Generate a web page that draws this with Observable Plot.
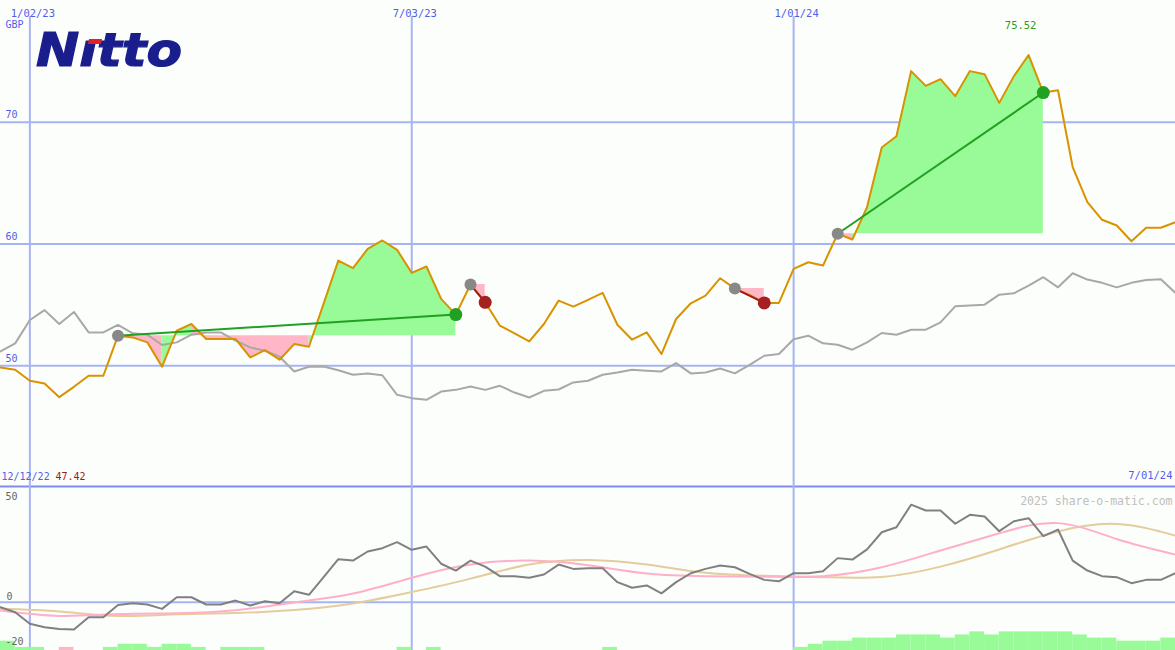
<!DOCTYPE html>
<html>
<head>
<meta charset="utf-8">
<script src="https://cdn.jsdelivr.net/npm/d3@7"></script>
<script src="https://cdn.jsdelivr.net/npm/@observablehq/plot@0.6"></script>
<style>
  html, body { margin: 0; padding: 0; background: #fcfefc; }
  #wrap { position: relative; width: 1175px; height: 650px; overflow: hidden; background: #fcfefc; }
  #topPanel, #bottomPanel { position: absolute; left: 0; }
  #topPanel { top: 0; }
  #bottomPanel { top: 487px; }
  #logo { position: absolute; left: 0; top: 0; }
</style>
</head>
<body>
<div id="wrap">
  <div id="topPanel"></div>
  <div id="bottomPanel"></div>
  <svg id="logo" width="200" height="80">
    <text x="36" y="66" font-family="DejaVu Sans" font-weight="bold" font-style="italic" font-size="46" fill="#1a1e8c" stroke="#1a1e8c" stroke-width="1.2" textLength="146" lengthAdjust="spacingAndGlyphs">Nıtto</text>
    <polygon points="89,39 102,39 101,44 88,44" fill="#e0202a"/>
  </svg>
</div>
<script>
// ---------- DATA ----------
// weekly observations (Mondays) from 2022-12-19 to 2024-07-01
const firstWeek = "2022-12-19";
const lastWeek = "2024-07-01";

// share price, GBP
const price = [
  49.86, 49.67, 48.77, 48.54, 47.42, 48.27, 49.18, 49.18, 52.47, 52.33,
  51.92, 49.92, 52.88, 53.43, 52.20, 52.20, 52.20, 50.68, 51.29, 50.49,
  51.79, 51.56, 55.10, 58.64, 58.01, 59.60, 60.29, 59.52, 57.63, 58.15,
  55.49, 54.20, 56.67, 55.21, 53.29, 52.66, 52.00, 53.43, 55.35, 54.86,
  55.41, 55.98, 53.37, 52.14, 52.74, 50.96, 53.84, 55.13, 55.76, 57.19,
  56.34, 55.82, 55.16, 55.16, 57.96, 58.50, 58.23, 60.84, 60.37, 63.03,
  67.92, 68.85, 74.20, 72.99, 73.54, 72.14, 74.20, 73.95, 71.59, 73.79,
  75.52, 72.44, 72.63, 66.32, 63.44, 61.99, 61.52, 60.23, 61.33, 61.33,
  61.79
];

// comparison index (rebased)
const indexLine = [
  51.18, 51.84, 53.76, 54.57, 53.43, 54.42, 52.74, 52.74, 53.35, 52.66,
  52.55, 51.70, 51.92, 52.55, 52.74, 52.74, 52.06, 51.51, 51.23, 50.74,
  49.53, 49.92, 49.94, 49.63, 49.26, 49.37, 49.22, 47.61, 47.34, 47.20,
  47.88, 48.02, 48.30, 48.02, 48.35, 47.80, 47.39, 47.94, 48.05, 48.63,
  48.77, 49.26, 49.45, 49.67, 49.59, 49.53, 50.22, 49.37, 49.45, 49.78,
  49.37, 50.08, 50.82, 50.96, 52.18, 52.47, 51.84, 51.73, 51.32, 51.92,
  52.69, 52.55, 52.96, 52.96, 53.56, 54.88, 54.94, 55.02, 55.84, 55.95,
  56.58, 57.27, 56.44, 57.60, 57.08, 56.81, 56.44, 56.81, 57.05, 57.10,
  55.98
];

// momentum indicator (lower panel)
const momentum = [
  -2.4, -4.8, -10.4, -12.1, -12.9, -13.2, -7.2, -7.2, -1.3, -0.5,
  -1.1, -3.2, 2.4, 2.4, -1.1, -1.1, 0.8, -1.6, 0.5, -0.5,
  5.3, 3.6, 12.1, 20.8, 20.1, 24.5, 26.1, 29.0, 25.3, 26.9,
  18.6, 15.3, 20.1, 17.2, 12.6, 12.6, 11.8, 13.4, 18.2, 16.1,
  16.4, 16.4, 9.7, 7.0, 8.1, 4.3, 9.7, 14.0, 16.1, 17.7,
  16.9, 13.7, 10.8, 10.1, 14.0, 14.0, 15.0, 21.3, 20.6, 25.5,
  33.8, 36.2, 47.1, 44.3, 44.3, 37.9, 42.2, 41.4, 34.3, 39.1,
  40.6, 31.9, 35.1, 20.1, 15.3, 12.6, 12.1, 9.2, 10.8, 10.8,
  14.0
];

// volume-style bars (positive = green, negative = pink)
const volume = [
  3, 1, 1, 0, -1, 0, 0, 1, 2, 2,
  1, 2, 2, 1, 0, 1, 1, 1, 0, 0,
  0, 0, 0, 0, 0, 0, 0, 1, 0, 1,
  0, 0, 0, 0, 0, 0, 0, 0, 0, 0,
  0, 1, 0, 0, 0, 0, 0, 0, 0, 0,
  0, 0, 0, 0, 1, 2, 3, 3, 4, 4,
  4, 5, 5, 5, 4, 5, 6, 5, 6, 6,
  6, 6, 6, 5, 4, 4, 3, 3, 3, 4,
  4
];

// smoothed averages, sampled every 4th week
const smoothStep = 4;
const avgFast = [-4.0, -6.6, -5.7, -5.3, -3.9, -0.1, 4.2, 11.8, 18.2, 20.1, 17.9, 13.9, 12.6, 12.3, 12.6, 16.9, 25.0, 33.3, 38.2, 30.5, 23.0];
const avgSlow = [-3.2, -4.5, -6.6, -5.8, -5.2, -3.8, -0.6, 4.9, 11.4, 18.2, 20.4, 18.2, 14.2, 12.8, 12.1, 12.2, 17.2, 25.5, 34.2, 37.8, 32.2];

// trades
const tradeEntry = ["2023-02-13", "2023-07-31", "2023-12-04", "2024-01-22"];
const tradeExit  = ["2023-07-24", "2023-08-07", "2023-12-18", "2024-04-29"];

// grid / tick labels
const gridDates = ["2023-01-02", "2023-07-03", "2024-01-01"];
const gridDateLabels = ["1/02/23", "7/03/23", "1/01/24"];
const priceTicks = [50, 60, 70];
const momentumTicks = [50, -20];
const startLabel = "12/12/22";
const endLabel = "7/01/24";
const currency = "GBP";
const credit = "2025 share-o-matic.com";

// ---------- BUILD ----------
const dates = d3.utcMonday.range(new Date(firstWeek), d3.utcDay.offset(new Date(lastWeek), 1));
const xDomain = [dates[0], dates[dates.length - 1]];
const rows = dates.map((d, i) => ({date: d, price: price[i], index: indexLine[i], mom: momentum[i], vol: volume[i]}));
const iOf = s => dates.findIndex(d => +d === +new Date(s));

const trades = tradeEntry.map((e, k) => {
  const i0 = iOf(e), i1 = iOf(tradeExit[k]);
  return {i0, i1, d0: dates[i0], d1: dates[i1], p0: price[i0], p1: price[i1], win: price[i1] >= price[i0]};
});
// runs of consecutive segments with the same colour (colour from the segment's end vs entry price)
const segs = [];
trades.forEach((t, k) => {
  let run = 0, prevUp = null;
  for (let i = t.i0; i < t.i1; i++) {
    const up = price[i + 1] >= t.p0;
    if (up !== prevUp) {
      run++;
      segs.push({date: dates[i], base: t.p0, p: price[i], id: k + "-" + run, up});
    }
    segs.push({date: dates[i + 1], base: t.p0, p: price[i + 1], id: k + "-" + run, up});
    prevUp = up;
  }
});
const smoothRows = avgFast.map((v, j) => ({date: dates[j * smoothStep], fast: v, slow: avgSlow[j]}));

const mono = "DejaVu Sans Mono";
const blue = "#5060e6";
const gridCol = "#a6b4f2";
const green = "#98fb98";
const pink = "#ffb6c6";
const iMax = price.indexOf(d3.max(price));

const topChart = Plot.plot({
  width: 1175, height: 487, margin: 0,
  style: {background: "transparent", overflow: "visible"},
  x: {type: "utc", domain: xDomain, axis: null},
  y: {domain: [40, 80], axis: null},
  marks: [
    Plot.ruleY(priceTicks, {stroke: gridCol, strokeWidth: 2}),
    Plot.ruleY([40], {stroke: "#7d8cee", strokeWidth: 2, dy: -1}),
    Plot.ruleX(gridDates, {x: d => new Date(d), stroke: gridCol, strokeWidth: 2, insetTop: 16}),
    Plot.areaY(segs.filter(s => s.up), {x: "date", y1: "base", y2: "p", z: "id", fill: green}),
    Plot.areaY(segs.filter(s => !s.up), {x: "date", y1: "base", y2: "p", z: "id", fill: pink}),
    Plot.line(rows, {x: "date", y: "index", stroke: "#a8a8a8", strokeWidth: 2}),
    Plot.line(rows, {x: "date", y: "price", stroke: "#d99200", strokeWidth: 2}),
    Plot.link(trades.filter(t => t.win), {x1: "d0", y1: "p0", x2: "d1", y2: "p1", stroke: "#22a022", strokeWidth: 2}),
    Plot.link(trades.filter(t => !t.win), {x1: "d0", y1: "p0", x2: "d1", y2: "p1", stroke: "#a01818", strokeWidth: 2}),
    Plot.dot(trades, {x: "d0", y: "p0", r: 6, fill: "#888888"}),
    Plot.dot(trades.filter(t => t.win), {x: "d1", y: "p1", r: 6.5, fill: "#22a022"}),
    Plot.dot(trades.filter(t => !t.win), {x: "d1", y: "p1", r: 6.5, fill: "#a52020"}),
    Plot.text(gridDates, {x: d => new Date(d), text: (d, i) => gridDateLabels[i], frameAnchor: "top", dy: 9, dx: 3, fill: blue, fontFamily: mono, fontSize: 10.5}),
    Plot.text([currency], {frameAnchor: "top-left", dx: 5, dy: 20, textAnchor: "start", fill: blue, fontFamily: mono, fontSize: 10}),
    Plot.text(priceTicks, {y: d => d, text: d => String(d), frameAnchor: "left", dx: 5, dy: -7, textAnchor: "start", fill: blue, fontFamily: mono, fontSize: 10}),
    Plot.text([rows[iMax]], {x: "date", text: d => d.price.toFixed(2), frameAnchor: "top", dy: 21, dx: -8, fill: "#2a9a2a", fontFamily: mono, fontSize: 10.5}),
    Plot.text([startLabel], {frameAnchor: "bottom-left", dx: 1, dy: -8, textAnchor: "start", fill: blue, fontFamily: mono, fontSize: 10}),
    Plot.text([d3.min(price).toFixed(2)], {frameAnchor: "bottom-left", dx: 55, dy: -8, textAnchor: "start", fill: "#a01818", fontFamily: mono, fontSize: 10}),
    Plot.text([endLabel], {frameAnchor: "bottom-right", dx: -3, dy: -9, textAnchor: "end", fill: blue, fontFamily: mono, fontSize: 10.5})
  ]
});
document.getElementById("topPanel").appendChild(topChart);

const yBottom = -23.3;
const barUnit = 1.5;
const bottomChart = Plot.plot({
  width: 1175, height: 163, margin: 0,
  style: {background: "transparent", overflow: "visible"},
  x: {type: "utc", domain: xDomain, axis: null},
  y: {domain: [yBottom, 55.4], axis: null},
  marks: [
    Plot.ruleY([0], {stroke: gridCol, strokeWidth: 2}),
    Plot.ruleX(gridDates, {x: d => new Date(d), stroke: gridCol, strokeWidth: 2}),
    Plot.rectY(rows.filter(r => r.vol > 0), {x1: "date", x2: d => d3.utcDay.offset(d.date, 7), y1: yBottom, y2: d => yBottom + d.vol * barUnit, fill: green}),
    Plot.rectY(rows.filter(r => r.vol < 0), {x1: "date", x2: d => d3.utcDay.offset(d.date, 7), y1: yBottom, y2: d => yBottom - d.vol * barUnit, fill: pink}),
    Plot.line(smoothRows, {x: "date", y: "slow", stroke: "#e4cc9c", strokeWidth: 2, curve: "natural"}),
    Plot.line(smoothRows, {x: "date", y: "fast", stroke: "#ffb0c8", strokeWidth: 2, curve: "natural"}),
    Plot.line(rows, {x: "date", y: "mom", stroke: "#808080", strokeWidth: 2}),
    Plot.text(momentumTicks, {y: d => d, text: d => String(d), frameAnchor: "left", dx: 5, dy: -2, textAnchor: "start", fill: "#666666", fontFamily: mono, fontSize: 10}),
    Plot.text([0], {y: d => d, text: d => String(d), frameAnchor: "left", dx: 6, dy: -5, textAnchor: "start", fill: "#666666", fontFamily: mono, fontSize: 10}),
    Plot.text([credit], {frameAnchor: "top-right", dx: -3, dy: 9, textAnchor: "end", fill: "#c0c0c0", fontFamily: mono, fontSize: 11.5})
  ]
});
document.getElementById("bottomPanel").appendChild(bottomChart);
</script>
</body>
</html>
